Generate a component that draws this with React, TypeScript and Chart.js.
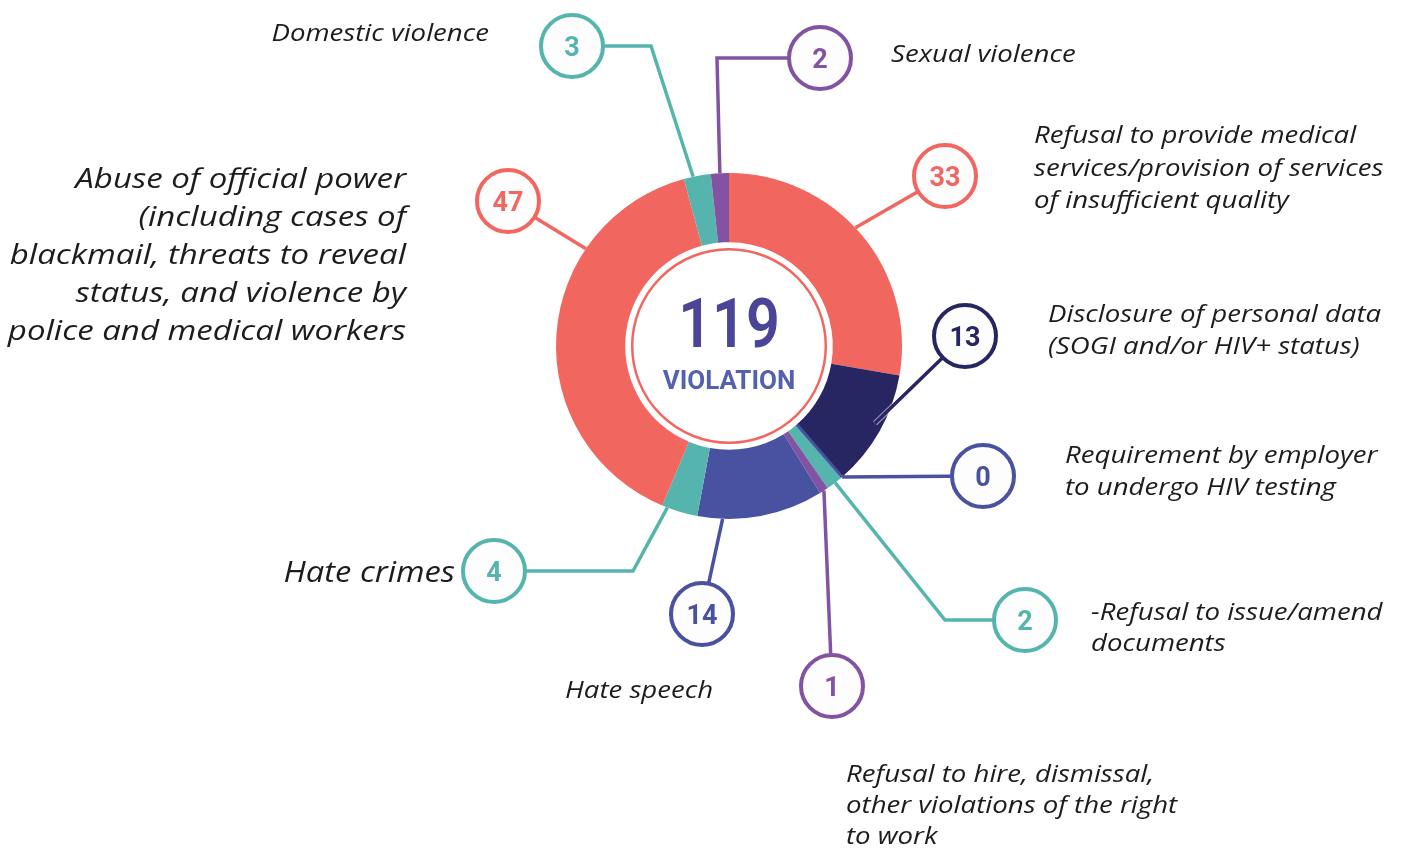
import React, { useEffect, useRef } from "react";
import { Chart, registerables } from "chart.js";

Chart.register(...registerables);

// ---- data ----
const categories = [
  "Refusal to provide medical services/provision of services of insufficient quality",
  "Disclosure of personal data (SOGI and/or HIV+ status)",
  "Requirement by employer to undergo HIV testing",
  "-Refusal to issue/amend documents",
  "Refusal to hire, dismissal, other violations of the right to work",
  "Hate speech",
  "Hate crimes",
  "Abuse of official power (including cases of blackmail, threats to reveal status, and violence by police and medical workers",
  "Domestic violence",
  "Sexual violence",
];
const categoryLines = [
  ["Refusal to provide medical", "services/provision of services", "of insufficient quality"],
  ["Disclosure of personal data", "(SOGI and/or HIV+ status)"],
  ["Requirement by employer", "to undergo HIV testing"],
  ["-Refusal to issue/amend", "documents"],
  ["Refusal to hire, dismissal,", "other violations of the right", "to work"],
  ["Hate speech"],
  ["Hate crimes"],
  ["Abuse of official power", "(including cases of", "blackmail, threats to reveal", "status, and violence by", "police and medical workers"],
  ["Domestic violence"],
  ["Sexual violence"],
];
const values = [33, 13, 0, 2, 1, 14, 4, 47, 3, 2];
const totalLabel = "119";
const centerCaption = "VIOLATION";

// ---- styles ----
const RED = "#f26660";
const NAVY = "#282563";
const BLUE = "#4951a1";
const TEAL = "#55b5ae";
const PURPLE = "#8353a3";
const colors = [RED, NAVY, BLUE, TEAL, PURPLE, BLUE, TEAL, RED, TEAL, PURPLE];

// ---- annotation layout (circle badge, optional elbow, label text) ----
type L = {
  cx: number; cy: number; frac: number; rf?: number; elbow?: [number, number];
  tx: number; ty: number; align?: "left" | "right"; size?: number; lh?: number; outline?: boolean; sx?: number;
};
const layout: L[] = [
  { cx: 945, cy: 176, frac: 0.47, tx: 1034, ty: 143, lh: 32.5 },
  { cx: 965, cy: 336, frac: 0.46, rf: 0.955, tx: 1048, ty: 322, lh: 31.5, outline: true },
  { cx: 983, cy: 476, frac: 0, tx: 1065, ty: 463, lh: 32 },
  { cx: 1025, cy: 620, frac: 0.5, elbow: [945, 620], tx: 1091, ty: 620, lh: 31 },
  { cx: 832, cy: 686, frac: 0.5, tx: 846, ty: 782, lh: 31 },
  { cx: 702, cy: 614, frac: 0.8, tx: 565, ty: 698 },
  { cx: 494, cy: 571, frac: 0.85, elbow: [633, 571], tx: 455, ty: 582, align: "right", size: 29, sx: 1.13 },
  { cx: 508, cy: 201, frac: 0.714, tx: 406, ty: 188, align: "right", size: 28, lh: 38, sx: 1.18 },
  { cx: 572, cy: 46, frac: 0.35, elbow: [651, 46], tx: 489, ty: 41, align: "right" },
  { cx: 820, cy: 58, frac: 0.5, elbow: [717, 58], tx: 891, ty: 62 },
];

const LABEL_FONT = '"Open Sans"';
const NUM_FONT = "Roboto";

const annotations = {
  id: "annotations",
  afterDraw(chart: any) {
    const ctx: CanvasRenderingContext2D = chart.ctx;
    const meta = chart.getDatasetMeta(0);
    const first = meta.data[0];
    const cx0 = first.x, cy0 = first.y;
    const inner = first.innerRadius, outer = first.outerRadius;

    ctx.save();
    // inner ring
    ctx.beginPath();
    ctx.arc(cx0, cy0, inner - 7, 0, Math.PI * 2);
    ctx.strokeStyle = RED;
    ctx.lineWidth = 2.5;
    ctx.stroke();

    // zero-value segments as a thin radial line
    meta.data.forEach((arc: any, i: number) => {
      if (values[i] === 0) {
        const a = arc.startAngle;
        ctx.beginPath();
        ctx.moveTo(cx0 + inner * Math.cos(a), cy0 + inner * Math.sin(a));
        ctx.lineTo(cx0 + outer * Math.cos(a), cy0 + outer * Math.sin(a));
        ctx.strokeStyle = colors[i];
        ctx.lineWidth = 3;
        ctx.stroke();
      }
    });

    // center text
    ctx.fillStyle = "#4a4597";
    ctx.textAlign = "center";
    ctx.textBaseline = "alphabetic";
    ctx.save();
    ctx.translate(cx0, cy0 + 1);
    ctx.scale(0.86, 1);
    ctx.font = `600 69px ${NUM_FONT}`;
    ctx.fillText(totalLabel, 0, 0);
    ctx.restore();
    ctx.fillStyle = "#5560ae";
    ctx.font = `700 26px ${NUM_FONT}`;
    ctx.fillText(centerCaption, cx0, cy0 + 43);

    // leaders, badges, labels
    meta.data.forEach((arc: any, i: number) => {
      const L = layout[i];
      const a = arc.startAngle + (arc.endAngle - arc.startAngle) * L.frac;
      const r = outer * (L.rf ?? 1);
      const ax = cx0 + r * Math.cos(a);
      const ay = cy0 + r * Math.sin(a);
      const pts: [number, number][] = [[ax, ay]];
      if (L.elbow) pts.push(L.elbow);
      pts.push([L.cx, L.cy]);
      const path = () => {
        ctx.beginPath();
        ctx.moveTo(pts[0][0], pts[0][1]);
        for (let k = 1; k < pts.length; k++) ctx.lineTo(pts[k][0], pts[k][1]);
      };
      ctx.lineJoin = "miter";
      if (L.outline) {
        path();
        ctx.strokeStyle = "rgba(255,255,255,0.6)";
        ctx.lineWidth = 5.5;
        ctx.stroke();
      }
      path();
      ctx.strokeStyle = colors[i];
      ctx.lineWidth = 3.5;
      ctx.stroke();

      // badge
      ctx.beginPath();
      ctx.arc(L.cx, L.cy, 31, 0, Math.PI * 2);
      ctx.fillStyle = "#fdfdfd";
      ctx.fill();
      ctx.lineWidth = 4;
      ctx.strokeStyle = colors[i];
      ctx.stroke();
      ctx.fillStyle = colors[i];
      ctx.font = `700 27px ${NUM_FONT}`;
      ctx.textAlign = "center";
      ctx.textBaseline = "alphabetic";
      ctx.fillText(String(values[i]), L.cx, L.cy + 10);

      // label
      const size = L.size ?? 24;
      ctx.font = `italic 400 ${size}px ${LABEL_FONT}`;
      ctx.fillStyle = "#1c1c1c";
      ctx.textAlign = L.align ?? "left";
      const lh = L.lh ?? 32;
      const sx = L.sx ?? 1.15;
      categoryLines[i].forEach((line, k) => {
        ctx.save();
        ctx.translate(L.tx, L.ty + k * lh);
        ctx.scale(sx, 1);
        ctx.fillText(line, 0, 0);
        ctx.restore();
      });
    });
    ctx.restore();
  },
};

export default function App() {
  const ref = useRef<HTMLCanvasElement>(null);
  useEffect(() => {
    document.body.style.margin = "0";
    const canvas = ref.current!;
    const chart = new Chart(canvas, {
      type: "doughnut",
      data: {
        labels: categories,
        datasets: [
          {
            data: values,
            backgroundColor: colors,
            borderWidth: 0,
          },
        ],
      },
      options: {
        responsive: false,
        animation: false,
        devicePixelRatio: 1,
        cutout: "60%",
        layout: { padding: { left: 556, right: 513, top: 173, bottom: 331 } },
        plugins: { legend: { display: false }, tooltip: { enabled: false } },
      },
      plugins: [annotations],
    });
    return () => chart.destroy();
  }, []);
  return (
    <div style={{ width: 1415, height: 850, overflow: "hidden", background: "#fff" }}>
      <canvas ref={ref} width={1415} height={850} style={{ display: "block" }} />
    </div>
  );
}
